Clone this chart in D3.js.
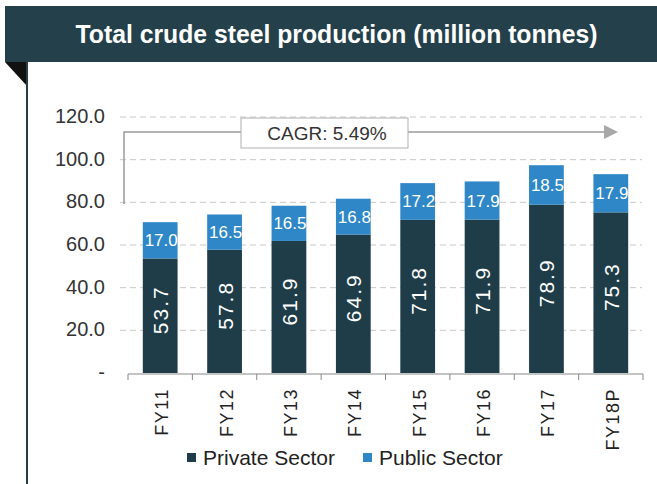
<!DOCTYPE html>
<html>
<head>
<meta charset="utf-8">
<script src="https://cdn.jsdelivr.net/npm/d3@7"></script>
<style>
  body { margin: 0; background: #fff; }
  svg text { font-family: "Liberation Sans", Arial, sans-serif; }
</style>
</head>
<body>
<div id="chart"></div>
<script>
// data
const years = ["FY11", "FY12", "FY13", "FY14", "FY15", "FY16", "FY17", "FY18P"];
const privateSector = [53.7, 57.8, 61.9, 64.9, 71.8, 71.9, 78.9, 75.3];
const publicSector = [17.0, 16.5, 16.5, 16.8, 17.2, 17.9, 18.5, 17.9];
const yTicks = [0, 20, 40, 60, 80, 100, 120];
const seriesNames = ["Private Sector", "Public Sector"];
const cagrLabel = "CAGR: 5.49%";

const W = 657, H = 484;
const colors = { "Private Sector": "#1f3d48", "Public Sector": "#2f87c8" };

const svg = d3.select("#chart").append("svg")
  .attr("width", W)
  .attr("height", H);

// title banner
svg.append("rect")
  .attr("x", 5).attr("y", 6)
  .attr("width", W - 5).attr("height", 56)
  .attr("fill", "#24404a");
svg.append("path")
  .attr("d", "M5,62 L27,62 L27,86 Z")
  .attr("fill", "#111");
svg.append("line")
  .attr("x1", 27).attr("x2", 27)
  .attr("y1", 62).attr("y2", H)
  .attr("stroke", "#2a3d44")
  .attr("stroke-width", 2);
svg.append("text")
  .attr("x", 336.5).attr("y", 43)
  .attr("text-anchor", "middle")
  .attr("fill", "#fff")
  .attr("font-size", 25)
  .attr("font-weight", "bold")
  .attr("textLength", 522)
  .attr("lengthAdjust", "spacingAndGlyphs")
  .text("Total crude steel production (million tonnes)");

// scales
const x = d3.scaleBand().domain(years).range([128, 643]).paddingInner(0.46).paddingOuter(0.23);
const y = d3.scaleLinear().domain([0, 120]).range([373, 117]);

const stacked = years.map((yr, i) => ({
  year: yr,
  "Private Sector": privateSector[i],
  "Public Sector": publicSector[i]
}));
const series = d3.stack().keys(seriesNames)(stacked);

// gridlines
svg.append("g")
  .selectAll("line")
  .data(yTicks.filter(d => d > 0))
  .join("line")
  .attr("x1", 120).attr("x2", 642)
  .attr("y1", d => y(d)).attr("y2", d => y(d))
  .attr("stroke", "#c8c8c8")
  .attr("stroke-dasharray", "6,4");

// y axis labels
svg.append("g")
  .selectAll("text")
  .data(yTicks)
  .join("text")
  .attr("x", 105)
  .attr("y", d => y(d) + 6)
  .attr("text-anchor", "end")
  .attr("font-size", 20)
  .attr("fill", "#333")
  .text(d => d === 0 ? "-" : d.toFixed(1));

// CAGR arrow
const arrowY = 132;
svg.append("path")
  .attr("d", `M124,204 L124,${arrowY} L606,${arrowY}`)
  .attr("fill", "none")
  .attr("stroke", "#9a9a9a")
  .attr("stroke-width", 1.5);
svg.append("path")
  .attr("d", `M604,${arrowY - 7} L618,${arrowY} L604,${arrowY + 7} Z`)
  .attr("fill", "#a8a8a8");
svg.append("rect")
  .attr("x", 241).attr("y", 118)
  .attr("width", 167).attr("height", 30)
  .attr("fill", "#fff")
  .attr("stroke", "#b0b0b0");
svg.append("text")
  .attr("x", 327).attr("y", 140)
  .attr("text-anchor", "middle")
  .attr("font-size", 19)
  .attr("fill", "#333")
  .text(cagrLabel);

// bars
const layer = svg.append("g")
  .selectAll("g")
  .data(series)
  .join("g")
  .attr("fill", d => colors[d.key]);
layer.selectAll("rect")
  .data(d => d)
  .join("rect")
  .attr("x", d => x(d.data.year))
  .attr("y", d => y(d[1]))
  .attr("width", x.bandwidth())
  .attr("height", d => y(d[0]) - y(d[1]));

// public labels (horizontal)
svg.append("g")
  .selectAll("text")
  .data(series[1])
  .join("text")
  .attr("x", d => x(d.data.year) + x.bandwidth() / 2 + 1)
  .attr("y", d => (y(d[0]) + y(d[1])) / 2 + 6)
  .attr("text-anchor", "middle")
  .attr("font-size", 17)
  .attr("fill", "#fff")
  .text(d => d.data["Public Sector"].toFixed(1));

// private labels (rotated)
svg.append("g")
  .selectAll("text")
  .data(series[0])
  .join("text")
  .attr("transform", d => `translate(${x(d.data.year) + x.bandwidth() / 2 + 8},${(y(d[0]) + y(d[1])) / 2 - 6}) rotate(-90)`)
  .attr("text-anchor", "middle")
  .attr("font-size", 21)
  .attr("letter-spacing", 2)
  .attr("fill", "#fff")
  .text(d => d.data["Private Sector"].toFixed(1));

// x axis
const xAxis = svg.append("g")
  .attr("transform", `translate(0,${y(0) + 1})`);
xAxis.append("line")
  .attr("x1", 128).attr("x2", 643)
  .attr("stroke", "#888");
xAxis.selectAll(".tick")
  .data(d3.range(years.length + 1))
  .join("line")
  .attr("class", "tick")
  .attr("x1", i => 128 + i * x.step())
  .attr("x2", i => 128 + i * x.step())
  .attr("y1", 0).attr("y2", 6)
  .attr("stroke", "#888");
xAxis.selectAll("text")
  .data(years)
  .join("text")
  .attr("transform", d => `translate(${x(d) + x.bandwidth() / 2 + 8},14) rotate(-90)`)
  .attr("text-anchor", "end")
  .attr("font-size", 18)
  .attr("letter-spacing", 1.5)
  .attr("fill", "#222")
  .text(d => d);

// legend
const legend = svg.append("g").attr("transform", "translate(187,465)");
const legendItems = [
  { name: seriesNames[0], x: 0 },
  { name: seriesNames[1], x: 176 }
];
legend.selectAll("rect")
  .data(legendItems)
  .join("rect")
  .attr("x", d => d.x).attr("y", -12)
  .attr("width", 9).attr("height", 9)
  .attr("fill", d => colors[d.name]);
legend.selectAll("text")
  .data(legendItems)
  .join("text")
  .attr("x", d => d.x + 16).attr("y", 0)
  .attr("font-size", 21)
  .attr("fill", "#222")
  .text(d => d.name);
</script>
</body>
</html>
